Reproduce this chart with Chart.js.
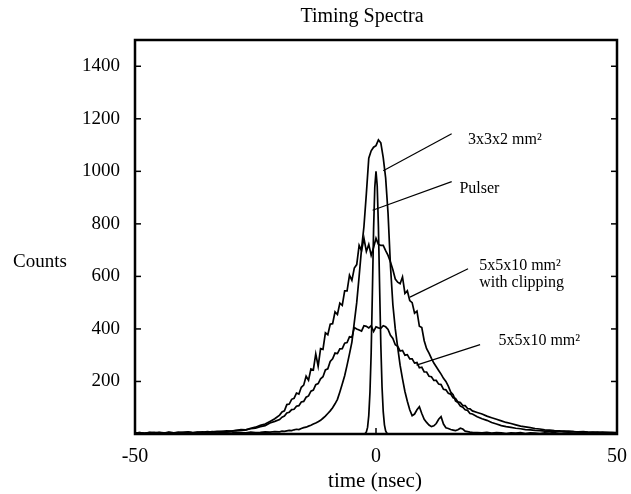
<!DOCTYPE html>
<html>
<head>
<meta charset="utf-8">
<script src="https://cdn.jsdelivr.net/npm/chart.js@4.4.1/dist/chart.umd.min.js"></script>
<style>
html, body { margin: 0; padding: 0; background: #fff; }
#wrap { width: 631px; height: 494px; }
</style>
</head>
<body>
<div id="wrap"><canvas id="timing" width="631" height="494"></canvas></div>
<script>
// time (nsec) for the three crystal spectra
const times = [
  -50, -49, -48, -47, -46, -45, -44, -43, -42, -41,
  -40, -39, -38, -37, -36, -35, -34, -33, -32, -31,
  -30, -29, -28, -27, -26, -25, -24, -23, -22, -21,
  -20, -19.5, -19, -18.5, -18, -17.5, -17, -16.5, -16, -15.5,
  -15, -14.5, -14, -13.5, -13, -12.5, -12, -11.5, -11, -10.5,
  -10, -9.5, -9, -8.5, -8, -7.5, -7, -6.5, -6, -5.5,
  -5, -4.5, -4, -3.5, -3, -2.5, -2, -1.5, -1, -0.5,
  0, 0.5, 1, 1.5, 2, 2.5, 3, 3.5, 4, 4.5,
  5, 5.5, 6, 6.5, 7, 7.5, 8, 8.5, 9, 9.5,
  10, 10.5, 11, 11.5, 12, 12.5, 13, 13.5, 14, 14.5,
  15, 15.5, 16, 16.5, 17, 17.5, 18, 18.5, 19, 19.5,
  20, 21, 22, 23, 24, 25, 26, 27, 28, 29,
  30, 31, 32, 33, 34, 35, 36, 37, 38, 39,
  40, 41, 42, 43, 44, 45, 46, 47, 48, 49,
  50
];
const counts3x3x2 = [
  3, 5, 2, 4, 6, 3, 2, 5, 4, 3,
  6, 4, 3, 5, 2, 4, 6, 3, 5, 4,
  3, 6, 5, 4, 7, 5, 6, 8, 7, 9,
  8, 11, 10, 12, 14, 13, 16, 18, 17, 21,
  24, 26, 30, 33, 38, 42, 47, 52, 60, 68,
  78, 88, 100, 115, 132, 160, 190, 222, 262, 305,
  350, 425, 500, 600, 705, 790, 915, 1050, 1078, 1092,
  1098, 1120, 1108, 1052, 975, 840, 640, 492, 400, 330,
  262, 210, 162, 125, 92, 70, 76, 92, 104, 78,
  56, 44, 34, 28, 31, 40, 56, 66, 38, 24,
  21, 17, 15, 13, 16, 22, 19, 11, 9, 7,
  6, 5, 4, 6, 3, 5, 4, 2, 4, 3,
  5, 2, 4, 3, 2, 4, 3, 5, 2, 3,
  4, 2, 3, 4, 2, 3, 5, 2, 3, 4,
  3
];
const countsClip = [
  3, 5, 2, 6, 4, 5, 3, 7, 4, 6,
  5, 8, 5, 7, 6, 9, 7, 10, 9, 12,
  11, 14, 17, 16, 22, 26, 33, 38, 48, 58,
  72, 84, 88, 112, 114, 132, 136, 156, 152, 178,
  186, 220, 205, 248, 244, 305, 258, 325, 322, 385,
  378, 418, 420, 465, 455, 498, 490, 545, 545, 605,
  585, 632, 645, 718, 698, 745, 695, 722, 680, 710,
  745, 722, 718, 718, 698, 680, 655, 625, 590, 578,
  572, 598, 535, 545, 508, 500, 460, 468, 410, 405,
  355, 325, 308, 288, 270, 256, 242, 228, 212, 200,
  182, 160, 150, 126, 120, 106, 102, 92, 90, 78,
  76, 66, 58, 52, 44, 38, 32, 28, 25, 22,
  20, 17, 16, 14, 13, 11, 12, 10, 9, 11,
  8, 9, 7, 8, 6, 7, 5, 7, 5, 6,
  4
];
const counts5x5x10 = [
  2, 4, 3, 5, 3, 6, 4, 5, 3, 6,
  5, 7, 4, 6, 8, 6, 9, 8, 10, 9,
  11, 13, 14, 16, 20, 22, 28, 32, 42, 48,
  55, 64, 68, 80, 83, 93, 94, 106, 108, 122,
  124, 140, 145, 163, 167, 188, 192, 210, 218, 244,
  248, 276, 286, 308, 306, 324, 325, 346, 348, 370,
  368, 405, 400, 396, 392, 412, 410, 404, 412, 390,
  408, 404, 402, 412, 408, 398, 376, 364, 340, 334,
  316, 318, 300, 302, 286, 286, 270, 272, 252, 254,
  236, 236, 220, 218, 204, 204, 190, 188, 170, 168,
  155, 152, 138, 135, 122, 120, 108, 108, 97, 96,
  88, 82, 76, 68, 62, 56, 50, 44, 40, 35,
  30, 27, 24, 21, 19, 16, 15, 13, 12, 10,
  11, 9, 8, 9, 7, 6, 7, 5, 6, 4,
  5
];
const pulserTimes = [-50, -3, -2.25, -2, -1.75, -1.5, -1.25, -1, -0.75, -0.5, -0.25, 0,
  0.25, 0.5, 0.75, 1, 1.25, 1.5, 1.75, 2, 2.25, 2.5, 50];
const pulserCounts = [0, 0, 2, 8, 25, 70, 160, 310, 540, 780, 940, 1000,
  945, 790, 560, 340, 180, 85, 35, 12, 3, 0, 0];

const xTicks = [-50, 0, 50];
const yTicks = [200, 400, 600, 800, 1000, 1200, 1400];

// callouts: text lines (left edge, baseline) and pointer line, in data units
const callouts = [
  {lines: ['3x3x2 mm²'], x: 19.1, y: [1104], from: [15.7, 1143], to: [1.5, 1002]},
  {lines: ['Pulser'], x: 17.3, y: [919], from: [15.7, 961], to: [-0.7, 852]},
  {lines: ['5x5x10 mm²', 'with clipping'], x: 21.4, y: [626, 559], from: [19.1, 629], to: [7.05, 521]},
  {lines: ['5x5x10 mm²'], x: 25.4, y: [338], from: [21.6, 340], to: [8.4, 262]}
];

const serif = "'Liberation Serif', 'Times New Roman', serif";

function pts(xs, ys) {
  return xs.map((t, i) => ({x: t, y: ys[i]}));
}

function seg(ctx, x1, y1, x2, y2) {
  ctx.beginPath();
  ctx.moveTo(x1, y1);
  ctx.lineTo(x2, y2);
  ctx.stroke();
}

const decor = {
  id: 'decor',
  afterDraw(chart) {
    const ctx = chart.ctx;
    const a = chart.chartArea;
    const x = chart.scales.x, y = chart.scales.y;
    ctx.save();
    ctx.strokeStyle = '#000';
    ctx.fillStyle = '#000';

    // frame
    ctx.lineWidth = 2.5;
    ctx.strokeRect(a.left, a.top, a.right - a.left, a.bottom - a.top);

    // inward tick marks, both sides
    ctx.lineWidth = 1.5;
    yTicks.forEach(v => {
      const py = y.getPixelForValue(v);
      seg(ctx, a.left, py, a.left + 6, py);
      seg(ctx, a.right - 6, py, a.right, py);
    });
    xTicks.forEach(v => {
      const px = x.getPixelForValue(v);
      seg(ctx, px, a.bottom, px, a.bottom - 6);
    });

    // callouts
    ctx.lineWidth = 1.2;
    ctx.font = '16px ' + serif;
    ctx.textAlign = 'left';
    ctx.textBaseline = 'alphabetic';
    callouts.forEach(c => {
      seg(ctx, x.getPixelForValue(c.from[0]), y.getPixelForValue(c.from[1]),
        x.getPixelForValue(c.to[0]), y.getPixelForValue(c.to[1]));
      c.lines.forEach((s, i) => {
        ctx.fillText(s, x.getPixelForValue(c.x), y.getPixelForValue(c.y[i]));
      });
    });

    // titles
    ctx.font = '20px ' + serif;
    ctx.textAlign = 'center';
    ctx.fillText('Timing Spectra', 362, 22);
    ctx.font = '21px ' + serif;
    ctx.fillText('time (nsec)', 375, 487);
    ctx.font = '19px ' + serif;
    ctx.textAlign = 'left';
    ctx.fillText('Counts', 13, 267);
    ctx.restore();
  }
};

const lineStyle = {
  borderColor: '#000',
  borderWidth: 1.7,
  pointRadius: 0,
  tension: 0,
  fill: false
};

new Chart(document.getElementById('timing'), {
  type: 'line',
  data: {
    datasets: [
      Object.assign({label: '3x3x2 mm²', data: pts(times, counts3x3x2)}, lineStyle),
      Object.assign({label: 'Pulser', data: pts(pulserTimes, pulserCounts)}, lineStyle),
      Object.assign({label: '5x5x10 mm² with clipping', data: pts(times, countsClip)}, lineStyle),
      Object.assign({label: '5x5x10 mm²', data: pts(times, counts5x5x10)}, lineStyle)
    ]
  },
  options: {
    responsive: false,
    animation: false,
    events: [],
    layout: {padding: {top: 40, right: 14, left: 0, bottom: 0}},
    plugins: {
      legend: {display: false},
      tooltip: {enabled: false},
      title: {display: false}
    },
    scales: {
      x: {
        type: 'linear',
        min: -50,
        max: 50,
        border: {display: false},
        grid: {display: false, drawTicks: false},
        afterBuildTicks: s => { s.ticks = xTicks.map(v => ({value: v})); },
        afterFit: s => { s.height = 60; s.paddingLeft = 0; s.paddingRight = 0; },
        ticks: {
          color: '#000',
          padding: 11,
          maxRotation: 0,
          autoSkip: false,
          font: {family: serif, size: 20},
          callback: v => String(v)
        }
      },
      y: {
        type: 'linear',
        min: 0,
        max: 1500,
        border: {display: false},
        grid: {display: false, drawTicks: false},
        afterBuildTicks: s => { s.ticks = yTicks.map(v => ({value: v})); },
        afterFit: s => { s.width = 135; s.paddingTop = 0; s.paddingBottom = 0; },
        ticks: {
          color: '#000',
          padding: 15,
          autoSkip: false,
          font: {family: serif, size: 19},
          callback: v => String(v)
        }
      }
    }
  },
  plugins: [decor]
});
</script>
</body>
</html>
